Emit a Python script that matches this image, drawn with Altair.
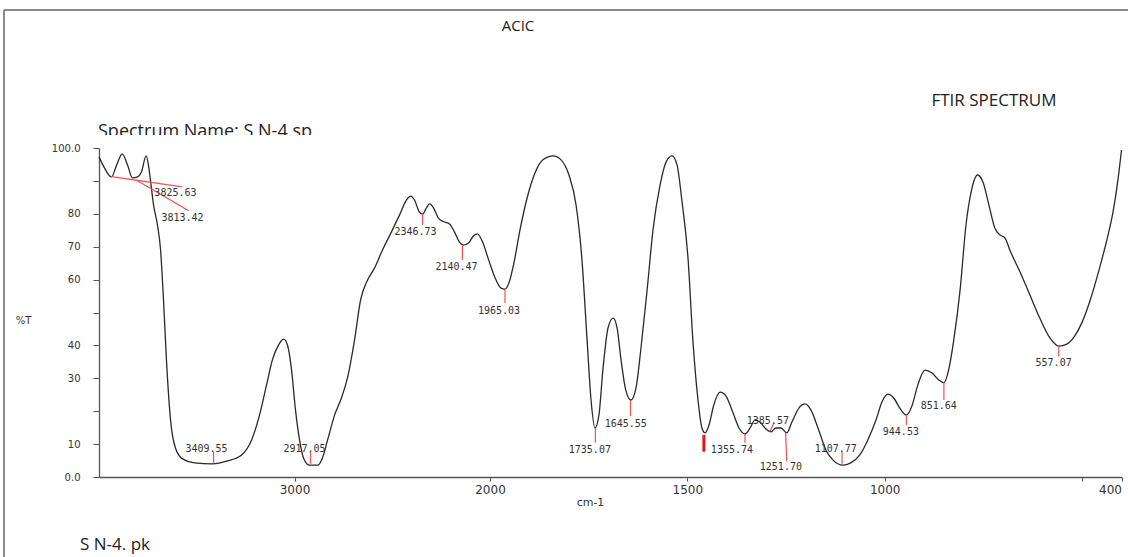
import altair as alt
import pandas as pd

# ---- spectrum (wavenumber cm-1, %T) ----
wavenumber = [4000, 3977, 3936, 3910, 3881, 3854, 3829, 3803, 3783, 3759, 3747, 3737, 3721, 3701, 3685,
              3670, 3655, 3634, 3609, 3573, 3512, 3419, 3343, 3271, 3220, 3179, 3143, 3113, 3082, 3056,
              3036, 3015, 2995, 2974, 2954, 2923, 2882, 2857, 2831, 2795, 2760, 2729, 2693, 2662, 2626,
              2591, 2550, 2504, 2463, 2427, 2407, 2386, 2361, 2345, 2325, 2310, 2289, 2264, 2233, 2207,
              2182, 2156, 2136, 2110, 2084, 2064, 2038, 2007, 1987, 1972, 1962, 1952, 1939, 1924, 1906,
              1886, 1866, 1840, 1820, 1800, 1782, 1767, 1754, 1744, 1734, 1724, 1714, 1701, 1688, 1678,
              1668, 1656, 1643, 1630, 1618, 1602, 1587, 1569, 1554, 1539, 1526, 1514, 1498, 1486, 1473,
              1463, 1455, 1445, 1433, 1417, 1402, 1387, 1369, 1354, 1341, 1329, 1316, 1301, 1288, 1276,
              1263, 1248, 1235, 1217, 1202, 1187, 1169, 1149, 1129, 1106, 1086, 1063, 1043, 1022, 1007,
              992, 977, 962, 945, 931, 916, 898, 880, 863, 850, 837, 825, 809, 794, 780,
              765, 751, 736, 721, 708, 695, 683, 657, 632, 607, 581, 559, 540, 520, 500, 480,
              455, 434, 422, 409, 400]
transmittance = [97.3, 94.5, 91.2, 94.8, 98.2, 94.8, 90.9, 91.2, 92.7, 97.6, 94.8, 90.3, 82.7, 76.6, 69.0,
                 53.8, 35.6, 17.3, 8.8, 5.5, 4.3, 4.0, 4.9, 6.7, 11.2, 18.8, 28.0, 35.6, 40.1, 41.9,
                 40.1, 32.5, 20.4, 11.2, 5.8, 3.6, 3.6, 5.8, 11.2, 18.8, 24.0, 30.1, 41.6, 53.8, 59.9,
                 63.5, 69.0, 74.5, 79.6, 84.2, 85.4, 84.2, 80.5, 79.9, 81.8, 83.0, 81.8, 78.7, 77.5, 76.9,
                 74.5, 71.4, 70.5, 71.1, 73.3, 73.9, 71.4, 66.0, 60.5, 57.4, 57.1, 59.0, 65.3, 75.1, 84.8,
                 92.4, 96.4, 97.6, 96.4, 91.8, 82.7, 66.0, 41.6, 23.4, 14.9, 18.8, 32.5, 45.3, 48.3, 45.3,
                 35.6, 26.4, 23.4, 27.1, 38.6, 56.8, 75.1, 88.8, 95.7, 97.6, 94.8, 84.2, 66.0, 41.6, 23.4,
                 14.9, 13.4, 15.8, 21.9, 25.8, 24.6, 20.4, 14.9, 13.1, 14.9, 17.3, 16.7, 14.6, 13.7, 14.9,
                 14.9, 13.4, 16.7, 21.0, 22.2, 20.4, 14.9, 8.2, 4.9, 3.6, 4.3, 6.7, 11.2, 17.3, 22.8,
                 25.2, 24.0, 21.0, 18.8, 21.6, 28.0, 32.5, 31.6, 29.5, 28.6, 33.1, 41.6, 56.8, 76.6, 87.2,
                 91.8, 89.7, 82.7, 75.7, 73.6, 72.6, 69.0, 62.3, 55.3, 48.3, 42.2, 39.8, 40.3, 42.6, 47.0, 53.5,
                 63.8, 73.6, 80.2, 90.3, 99.4]

# ---- peak marker ticks ----
marker_wn1 = [3414, 2918, 2345, 2141, 1962, 1733, 1644, 1354, 1291, 1251, 1108, 945, 850, 559, 3938, 3810]
marker_wn2 = [3414, 2918, 2345, 2141, 1962, 1733, 1644, 1354, 1280, 1248, 1108, 945, 850, 559, 3574, 3541]
marker_t1 = [4.3, 4.0, 79.9, 70.5, 57.1, 14.9, 23.4, 13.1, 13.8, 13.4, 3.6, 18.8, 28.9, 39.5, 91.3, 90.3]
marker_t2 = [7.7, 7.7, 76.6, 66.0, 52.9, 10.4, 18.5, 10.4, 16.5, 4.7, 7.7, 15.8, 23.4, 36.6, 88.2, 80.9]
strong_wn = [1458]
strong_t1 = [12.8]
strong_t2 = [7.7]

# ---- peak labels ----
label_text = ["3825.63", "3813.42", "3409.55", "2917.05", "2346.73", "2140.47", "1965.03", "1735.07",
              "1645.55", "1355.74", "1385.57", "1251.70", "1107.77", "944.53", "851.64", "557.07"]
label_wn = [3609, 3573, 3450, 2949, 2381, 2171, 1977, 1747, 1656, 1387, 1296, 1263, 1124, 959, 863, 572]
label_t = [86.3, 78.7, 8.5, 8.5, 74.5, 63.8, 50.5, 8.2, 16.1, 8.2, 17.0, 3.0, 8.5, 13.7, 21.6, 34.7]

x_ticks = [3000, 2000, 1500, 1000, 500, 400]
y_ticks = [0, 10, 20, 30, 40, 50, 60, 70, 80, 90, 100]

spec_df = pd.DataFrame({"wn": wavenumber, "t": transmittance})
mark_df = pd.DataFrame({"wn": marker_wn1, "wn2": marker_wn2, "t": marker_t1, "t2": marker_t2})
strong_df = pd.DataFrame({"wn": strong_wn, "t": strong_t1, "t2": strong_t2})
lab_df = pd.DataFrame({"wn": label_wn, "t": label_t, "txt": label_text})

AX = "#555555"
xscale = alt.Scale(type="linear", domain=[4000, 2000, 400], range=[0, 391, 1022.5], nice=False, zero=False)
yscale = alt.Scale(domain=[0, 100], nice=False, zero=False)

x_axis = alt.Axis(values=x_ticks, format="d",
                  labelExpr="datum.value == 500 ? '' : datum.label",
                  title="cm-1", titleX=491, titleY=25, titleAlign="center", titleBaseline="middle",
                  titleFont="DejaVu Sans", titleFontSize=11, titleFontWeight="normal", titleColor="#333",
                  labelFont="DejaVu Sans", labelFontSize=12, labelColor="#333", labelPadding=3,
                  tickSize=4, tickColor=AX, domainColor=AX, domainWidth=1.3, grid=False)
y_axis = alt.Axis(values=y_ticks,
                  labelExpr="datum.value == 100 ? '100.0' : datum.value == 0 ? '0.0' : "
                            "(datum.value == 90 || datum.value == 50 || datum.value == 20) ? '' : datum.label",
                  title="%T", titleAngle=0, titleX=-76, titleY=172, titleAlign="center", titleBaseline="middle",
                  titleFont="DejaVu Sans", titleFontSize=10, titleFontWeight="normal", titleColor="#333",
                  labelFont="DejaVu Sans", labelFontSize=10, labelColor="#333", labelPadding=13,
                  tickSize=6, tickColor=AX, domainColor=AX, domainWidth=1.3, grid=False)

X = alt.X("wn:Q", scale=xscale, axis=x_axis)
Y = alt.Y("t:Q", scale=yscale, axis=y_axis)

spectrum = alt.Chart(spec_df).mark_line(color="#2a2a2a", strokeWidth=1.3, interpolate="monotone").encode(x=X, y=Y)

markers = alt.Chart(mark_df).mark_rule(color="#ff4d4d", strokeWidth=1.2).encode(
    x=X, x2=alt.X2("wn2"), y=Y, y2=alt.Y2("t2"))
strong = alt.Chart(strong_df).mark_rule(color="#ee1111", strokeWidth=3).encode(
    x=X, y=Y, y2=alt.Y2("t2"))

labels = alt.Chart(lab_df).mark_text(font="DejaVu Sans Mono", fontSize=10, color="#333",
                                     align="center", baseline="middle").encode(x=X, y=Y, text="txt:N")

one = pd.DataFrame({"k": [0]})


def deco_text(s, x, y, size, align="center"):
    return alt.Chart(one).mark_text(text=s, font="Open Sans", fontSize=size, color="#222",
                                    align=align, baseline="middle").encode(x=alt.value(x), y=alt.value(y))


title_acic = deco_text("ACIC", 419, -122, 15)
title_ftir = deco_text("FTIR SPECTRUM", 895, -47, 17)
title_name = deco_text("Spectrum Name: S N-4.sp", 106, -16, 18)
name_cover = alt.Chart(one).mark_rect(color="white").encode(
    x=alt.value(-10), x2=alt.value(230), y=alt.value(-13), y2=alt.value(-5))
foot = deco_text("S N-4. pk", 16, 397, 17)

border_top = alt.Chart(one).mark_rule(color="#666", strokeWidth=1.5).encode(
    x=alt.value(-95), x2=alt.value(1030), y=alt.value(-138))
border_left = alt.Chart(one).mark_rule(color="#666", strokeWidth=1.5).encode(
    x=alt.value(-95), y=alt.value(-138), y2=alt.value(410))

chart = alt.layer(
    border_top, border_left, title_acic, title_ftir, title_name, name_cover, foot,
    spectrum, markers, strong, labels
).properties(
    width=1023, height=329,
    autosize=alt.AutoSizeParams(type="none"),
    padding={"left": 99, "top": 148, "right": 6, "bottom": 80},
    background="white",
).configure_view(stroke=None)

chart.save("out.html", embed_options={"renderer": "svg", "actions": False})
